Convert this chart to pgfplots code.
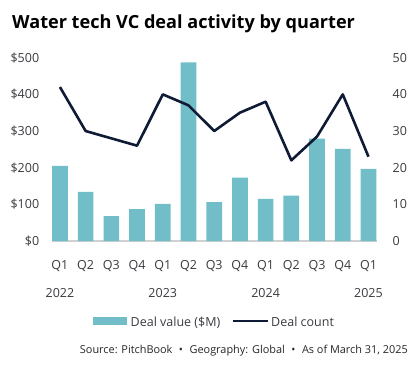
\documentclass[border=0pt]{standalone}
\usepackage{pgfplots}
\pgfplotsset{compat=1.18}
\usepackage{fontspec}
\setmainfont{Open Sans}
\definecolor{barc}{HTML}{72BEC8}
\definecolor{linec}{HTML}{0F1B35}
\definecolor{txt}{HTML}{3A3A40}
\definecolor{basec}{HTML}{D0D0D0}
\begin{document}
\begin{tikzpicture}
\path[use as bounding box] (0pt,0pt) rectangle (420pt,370pt);
\node[anchor=base west, inner sep=0pt, font=\fontsize{18.1}{22}\selectfont\bfseries] at (12pt,341.7pt) {Water tech VC deal activity by quarter};
\begin{axis}[at={(51.7pt,129pt)}, anchor=south west, scale only axis,
  width=325pt, height=183.3pt,
  xmin=-0.32, xmax=12.32, ymin=0, ymax=500,
  axis x line*=bottom, axis y line*=left,
  y axis line style={draw=none},
  x axis line style={draw=basec, line width=1.2pt},
  major tick length=0pt,
  xtick={0,...,12},
  xticklabels={Q1,Q2,Q3,Q4,Q1,Q2,Q3,Q4,Q1,Q2,Q3,Q4,Q1},
  ytick={0,100,200,300,400,500},
  yticklabels={\$0,\$100,\$200,\$300,\$400,\$500},
  ticklabel style={font=\fontsize{12.5}{14}\selectfont, text=txt},
  yticklabel style={anchor=east, xshift=-9pt},
  xticklabel style={anchor=base, yshift=-28pt},
  /pgf/number format/assume math mode=true,
  clip=false,
]
\addplot[ybar, bar width=15.7pt, fill=barc, draw=none] coordinates {
(0,205) (1,134) (2,68) (3,87) (4,101) (5,487) (6,106) (7,173) (8,115) (9,124) (10,279) (11,251) (12,197)};
\node[anchor=base, yshift=-56pt, font=\fontsize{12.5}{14}\selectfont, text=txt] at (axis cs:0,0) {2022};
\node[anchor=base, yshift=-56pt, font=\fontsize{12.5}{14}\selectfont, text=txt] at (axis cs:4,0) {2023};
\node[anchor=base, yshift=-56pt, font=\fontsize{12.5}{14}\selectfont, text=txt] at (axis cs:8,0) {2024};
\node[anchor=base, yshift=-56pt, font=\fontsize{12.5}{14}\selectfont, text=txt] at (axis cs:12,0) {2025};
\end{axis}
\begin{axis}[at={(51.7pt,129pt)}, anchor=south west, scale only axis,
  width=325pt, height=183.3pt,
  xmin=-0.32, xmax=12.32, ymin=0, ymax=50,
  axis x line=none, axis y line*=right,
  y axis line style={draw=none},
  major tick length=0pt,
  ytick={0,10,20,30,40,50},
  ticklabel style={font=\fontsize{12.5}{14}\selectfont, text=txt},
  yticklabel style={anchor=west, xshift=12.5pt},
  /pgf/number format/assume math mode=true,
]
\addplot[linec, line width=2.6pt, line join=round, mark=none] coordinates {
(0,42) (1,30) (2,28) (3,26) (4,40) (5,37) (6,30) (7,35) (8,38) (9,22) (10,28.5) (11,40) (12,23)};
\end{axis}
\fill[barc] (93pt,45pt) rectangle (127pt,53pt);
\node[anchor=base west, inner sep=0pt, font=\fontsize{12.5}{14}\selectfont, text=txt] at (130.5pt,44pt) {Deal value (\$M)};
\draw[linec, line width=2.5pt] (233pt,49pt) -- (268pt,49pt);
\node[anchor=base west, inner sep=0pt, font=\fontsize{12.5}{14}\selectfont, text=txt] at (271pt,44pt) {Deal count};
\node[anchor=base east, inner sep=0pt, font=\fontsize{10.9}{12}\selectfont, text=black!85] at (408pt,17pt) {Source: PitchBook\hspace{0.6em}\textbullet\hspace{0.6em}Geography: Global\hspace{0.6em}\textbullet\hspace{0.6em}As of March 31, 2025};
\end{tikzpicture}
\end{document}
